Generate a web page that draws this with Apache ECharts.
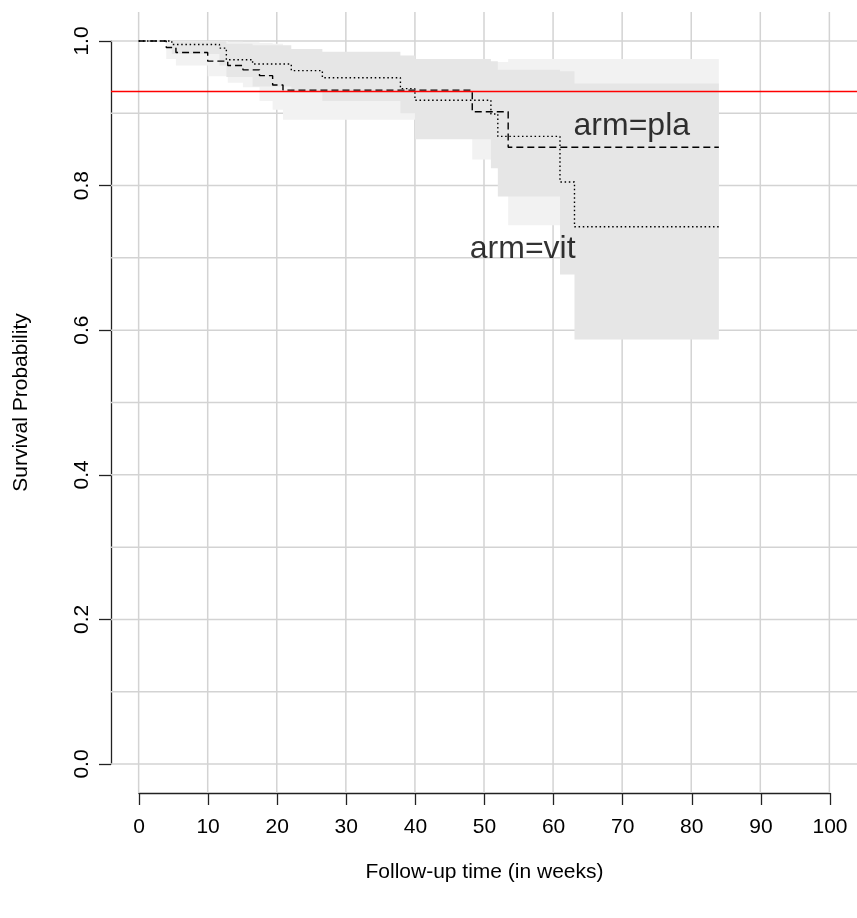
<!DOCTYPE html>
<html>
<head>
<meta charset="utf-8">
<script src="https://cdn.jsdelivr.net/npm/echarts@6/dist/echarts.min.js"></script>
<style>html,body{margin:0;padding:0;background:#fff}#c{width:857px;height:918px}</style>
</head>
<body>
<div id="c"></div>
<script>
// ---- data ----
const xTickValues = [0, 10, 20, 30, 40, 50, 60, 70, 80, 90, 100];
const yTickValues = [0, 0.2, 0.4, 0.6, 0.8, 1.0];
const xGridValues = [0, 10, 20, 30, 40, 50, 60, 70, 80, 90, 100];
const yGridValues = [0, 0.1, 0.2, 0.3, 0.4, 0.5, 0.6, 0.7, 0.8, 0.9, 1.0];

// arm=pla (dashed)
const plaTimes = [0, 4.0, 5.4, 10.0, 12.9, 15.1, 17.5, 19.4, 20.9, 48.3, 53.5, 84.0];
const plaSurv  = [1, 0.991, 0.984, 0.972, 0.966, 0.960, 0.952, 0.939, 0.932, 0.902, 0.853, 0.853];
const plaUpper = [1, 1.000, 1.000, 1.000, 0.999, 0.998, 0.997, 0.996, 0.975, 0.971, 0.975, 0.975];
const plaLower = [1, 0.975, 0.966, 0.951, 0.942, 0.936, 0.917, 0.905, 0.891, 0.836, 0.745, 0.745];

// arm=vit (dotted)
const vitTimes = [0, 4.8, 11.7, 12.7, 16.5, 22.1, 26.6, 37.9, 40.0, 51.0, 52.0, 61.0, 63.1, 84.0];
const vitSurv  = [1, 0.995, 0.990, 0.974, 0.968, 0.959, 0.949, 0.934, 0.918, 0.899, 0.868, 0.805, 0.743, 0.743];
const vitUpper = [1, 1.000, 1.000, 0.996, 0.994, 0.989, 0.985, 0.980, 0.975, 0.972, 0.960, 0.958, 0.941, 0.941];
const vitLower = [1, 0.982, 0.966, 0.950, 0.937, 0.930, 0.917, 0.900, 0.864, 0.824, 0.785, 0.677, 0.587, 0.587];

const refLineValue = 0.9267;
const annotations = [
  { name: 'arm=pla', t: 71.4, s: 0.882 },
  { name: 'arm=vit', t: 55.6, s: 0.712 }
];

// ---- chart ----
const FONT = "'Liberation Sans', Arial, Helvetica, sans-serif";
const chart = echarts.init(document.getElementById('c'), null, { renderer: 'canvas' });

function stepPoints(times, vals) {
  return times.map((t, i) => [t, vals[i]]);
}

function bandRender(times, upper, lower, color) {
  return function (params, api) {
    const pts = [];
    const n = times.length;
    for (let i = 1; i < n - 1; i++) {
      pts.push(api.coord([times[i], upper[i]]));
      pts.push(api.coord([times[i + 1], upper[i]]));
    }
    for (let i = n - 2; i >= 1; i--) {
      pts.push(api.coord([times[i + 1], lower[i]]));
      pts.push(api.coord([times[i], lower[i]]));
    }
    return { type: 'polygon', shape: { points: pts }, style: { fill: color, stroke: null } };
  };
}

const gridData = xGridValues.map(v => [0, v]).concat(yGridValues.map(v => [1, v]));

const option = {
  animation: false,
  backgroundColor: '#ffffff',
  textStyle: { fontFamily: FONT },
  grid: [
    { left: 139, top: 41, width: 691, height: 723, containLabel: false },
    { left: 111, top: 12, width: 747, height: 781, containLabel: false }
  ],
  xAxis: [
    {
      gridIndex: 0, type: 'value', min: 0, max: 100, interval: 10, offset: 29,
      name: 'Follow-up time (in weeks)', nameLocation: 'middle', nameGap: 69,
      nameTextStyle: { fontSize: 21, color: '#000', fontFamily: FONT },
      axisLine: { show: true, onZero: false, lineStyle: { color: '#222', width: 1.3 } },
      axisTick: { show: true, length: 12, lineStyle: { color: '#222', width: 1.3 } },
      axisLabel: { fontSize: 21, color: '#000', margin: 24, fontFamily: FONT },
      splitLine: { show: false }
    },
    { gridIndex: 1, type: 'value', min: -4, max: 104, show: false, splitLine: { show: false } }
  ],
  yAxis: [
    {
      gridIndex: 0, type: 'value', min: 0, max: 1, interval: 0.2, offset: 28,
      name: 'Survival Probability', nameLocation: 'middle', nameGap: 79,
      nameTextStyle: { fontSize: 21, color: '#000', fontFamily: FONT },
      axisLine: { show: true, onZero: false, lineStyle: { color: '#222', width: 1.3 } },
      axisTick: { show: true, length: 12, lineStyle: { color: '#222', width: 1.3 } },
      axisLabel: { fontSize: 21, color: '#000', margin: 18, rotate: 90, fontFamily: FONT,
        formatter: v => v.toFixed(1) },
      splitLine: { show: false }
    },
    { gridIndex: 1, type: 'value', min: -0.04, max: 1.04, show: false, splitLine: { show: false } }
  ],
  series: [
    {
      type: 'custom', xAxisIndex: 1, yAxisIndex: 1, z: 1, silent: true,
      data: gridData,
      renderItem: function (params, api) {
        const kind = api.value(0), v = api.value(1);
        const cs = params.coordSys;
        if (kind === 0) {
          const x = api.coord([v, 0])[0];
          return { type: 'line', shape: { x1: x, y1: cs.y, x2: x, y2: cs.y + cs.height },
            style: { stroke: '#d3d3d3', lineWidth: 1.5 } };
        } else {
          const y = api.coord([0, v])[1];
          return { type: 'line', shape: { x1: cs.x, y1: y, x2: cs.x + cs.width, y2: y },
            style: { stroke: '#d3d3d3', lineWidth: 1.5 } };
        }
      }
    },
    {
      type: 'custom', xAxisIndex: 1, yAxisIndex: 1, z: 2, silent: true,
      data: [[0, 1]],
      renderItem: bandRender(plaTimes, plaUpper, plaLower, '#f2f2f2')
    },
    {
      type: 'custom', xAxisIndex: 1, yAxisIndex: 1, z: 3, silent: true,
      data: [[0, 1]],
      renderItem: bandRender(vitTimes, vitUpper, vitLower, '#e6e6e6')
    },
    {
      name: 'arm=pla', type: 'line', xAxisIndex: 1, yAxisIndex: 1, z: 4, silent: true,
      step: 'end', showSymbol: false, symbol: 'none',
      data: stepPoints(plaTimes, plaSurv),
      lineStyle: { color: '#000', width: 1.4, type: [7, 4] },
      markLine: {
        silent: true, symbol: 'none', label: { show: false },
        lineStyle: { color: '#ff0000', type: 'solid', width: 1.4 },
        data: [{ yAxis: refLineValue }]
      }
    },
    {
      name: 'arm=vit', type: 'line', xAxisIndex: 1, yAxisIndex: 1, z: 4, silent: true,
      step: 'end', showSymbol: false, symbol: 'none',
      data: stepPoints(vitTimes, vitSurv),
      lineStyle: { color: '#000', width: 1.4, type: [1.5, 2.7] }
    },
    {
      type: 'scatter', xAxisIndex: 1, yAxisIndex: 1, z: 5, silent: true,
      symbolSize: 1, itemStyle: { color: 'rgba(0,0,0,0)' },
      data: annotations.map(a => ({ name: a.name, value: [a.t, a.s] })),
      label: { show: true, position: 'inside', formatter: p => p.name,
        fontSize: 32, color: '#000', fontFamily: FONT }
    }
  ]
};
chart.setOption(option);
</script>
</body>
</html>
